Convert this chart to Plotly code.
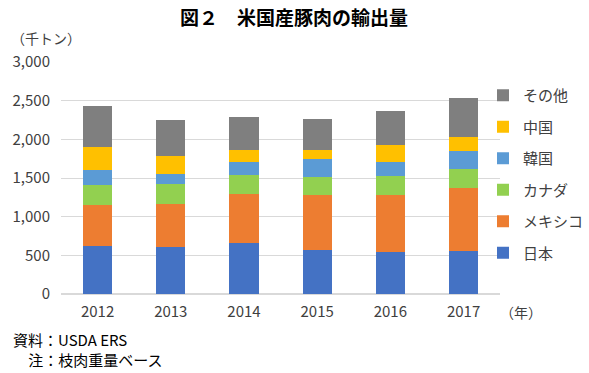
import plotly.graph_objects as go

years = ["2012", "2013", "2014", "2015", "2016", "2017"]
japan = [623, 610, 657, 567, 541, 554]
mexico = [524, 554, 632, 709, 735, 812]
canada = [258, 254, 245, 232, 245, 245]
korea = [193, 129, 171, 232, 184, 232]
china = [301, 236, 151, 116, 216, 185]
other = [537, 473, 438, 413, 451, 511]

series_names = ["日本", "メキシコ", "カナダ", "韓国", "中国", "その他"]
series_values = [japan, mexico, canada, korea, china, other]
colors = ["#4472C4", "#ED7D31", "#92D050", "#5B9BD5", "#FFC000", "#7F7F7F"]

FONT = "Noto Sans CJK JP, sans-serif"
W, H = 589, 373
L, R, T, B = 61, 0, 62, 79
PW = W - L - R          # paper width in px
PH = H - T - B
PLOT_RIGHT = 501        # px where the plot area ends


def px_x(x):
    return (x - L) / PW


def px_y(y):
    return (H - B - y) / PH


fig = go.Figure()
n = len(series_names)
for i, (name, vals, c) in enumerate(zip(series_names, series_values, colors)):
    fig.add_trace(go.Bar(x=years, y=vals, name=name, marker_color=c,
                         marker_line_width=0, legendgroup=name,
                         legendrank=n - i))

fig.update_layout(
    width=W, height=H,
    margin=dict(l=L, r=R, t=T, b=B),
    barmode="stack", bargap=0.6,
    plot_bgcolor="white", paper_bgcolor="white",
    font=dict(family=FONT, size=14, color="#404040"),
    showlegend=True,
    legend=dict(traceorder="grouped", x=px_x(484), xanchor="left",
                y=px_y(79), yanchor="top",
                font=dict(size=15, color="#404040"), tracegroupgap=9,
                itemwidth=30, bgcolor="rgba(0,0,0,0)"),
    xaxis=dict(type="category", domain=[0, px_x(PLOT_RIGHT)], showgrid=False,
               showline=False, ticks="", ticklabelstandoff=7,
               tickfont=dict(size=15, color="#404040")),
    yaxis=dict(range=[0, 3000], dtick=500, tickformat=",", showgrid=True,
               gridcolor="#D9D9D9", zeroline=True, zerolinecolor="#D9D9D9",
               showline=False, ticks="", ticklabelstandoff=10,
               tickfont=dict(size=15, color="#404040")),
)

fig.add_annotation(text="<b>図２　米国産豚肉の輸出量</b>", xref="paper", yref="paper",
                   x=px_x(294), y=px_y(16), showarrow=False,
                   font=dict(size=19, color="black"),
                   xanchor="center", yanchor="middle")
fig.add_annotation(text="（千トン）", xref="paper", yref="paper",
                   x=px_x(9), y=px_y(38), showarrow=False,
                   xanchor="left", yanchor="middle",
                   font=dict(size=14, color="#404040"))
fig.add_annotation(text="（年）", xref="paper", yref="paper",
                   x=px_x(522), y=px_y(312), showarrow=False,
                   xanchor="center", yanchor="middle",
                   font=dict(size=14, color="#404040"))
fig.add_annotation(text="資料：USDA ERS", xref="paper", yref="paper",
                   x=px_x(11), y=px_y(339), showarrow=False,
                   xanchor="left", yanchor="middle",
                   font=dict(size=15, color="black"))
fig.add_annotation(text="　 注：枝肉重量ベース", xref="paper", yref="paper",
                   x=px_x(8), y=px_y(359), showarrow=False,
                   xanchor="left", yanchor="middle",
                   font=dict(size=15, color="black"))

fig.write_html("out.html", config={"displayModeBar": False})

# remove default page margin so the figure sits at the window's top-left corner
with open("out.html", "r", encoding="utf-8") as f:
    html = f.read()
html = html.replace("<head>", "<head><style>html,body{margin:0;padding:0;overflow:hidden}</style>", 1)
with open("out.html", "w", encoding="utf-8") as f:
    f.write(html)
